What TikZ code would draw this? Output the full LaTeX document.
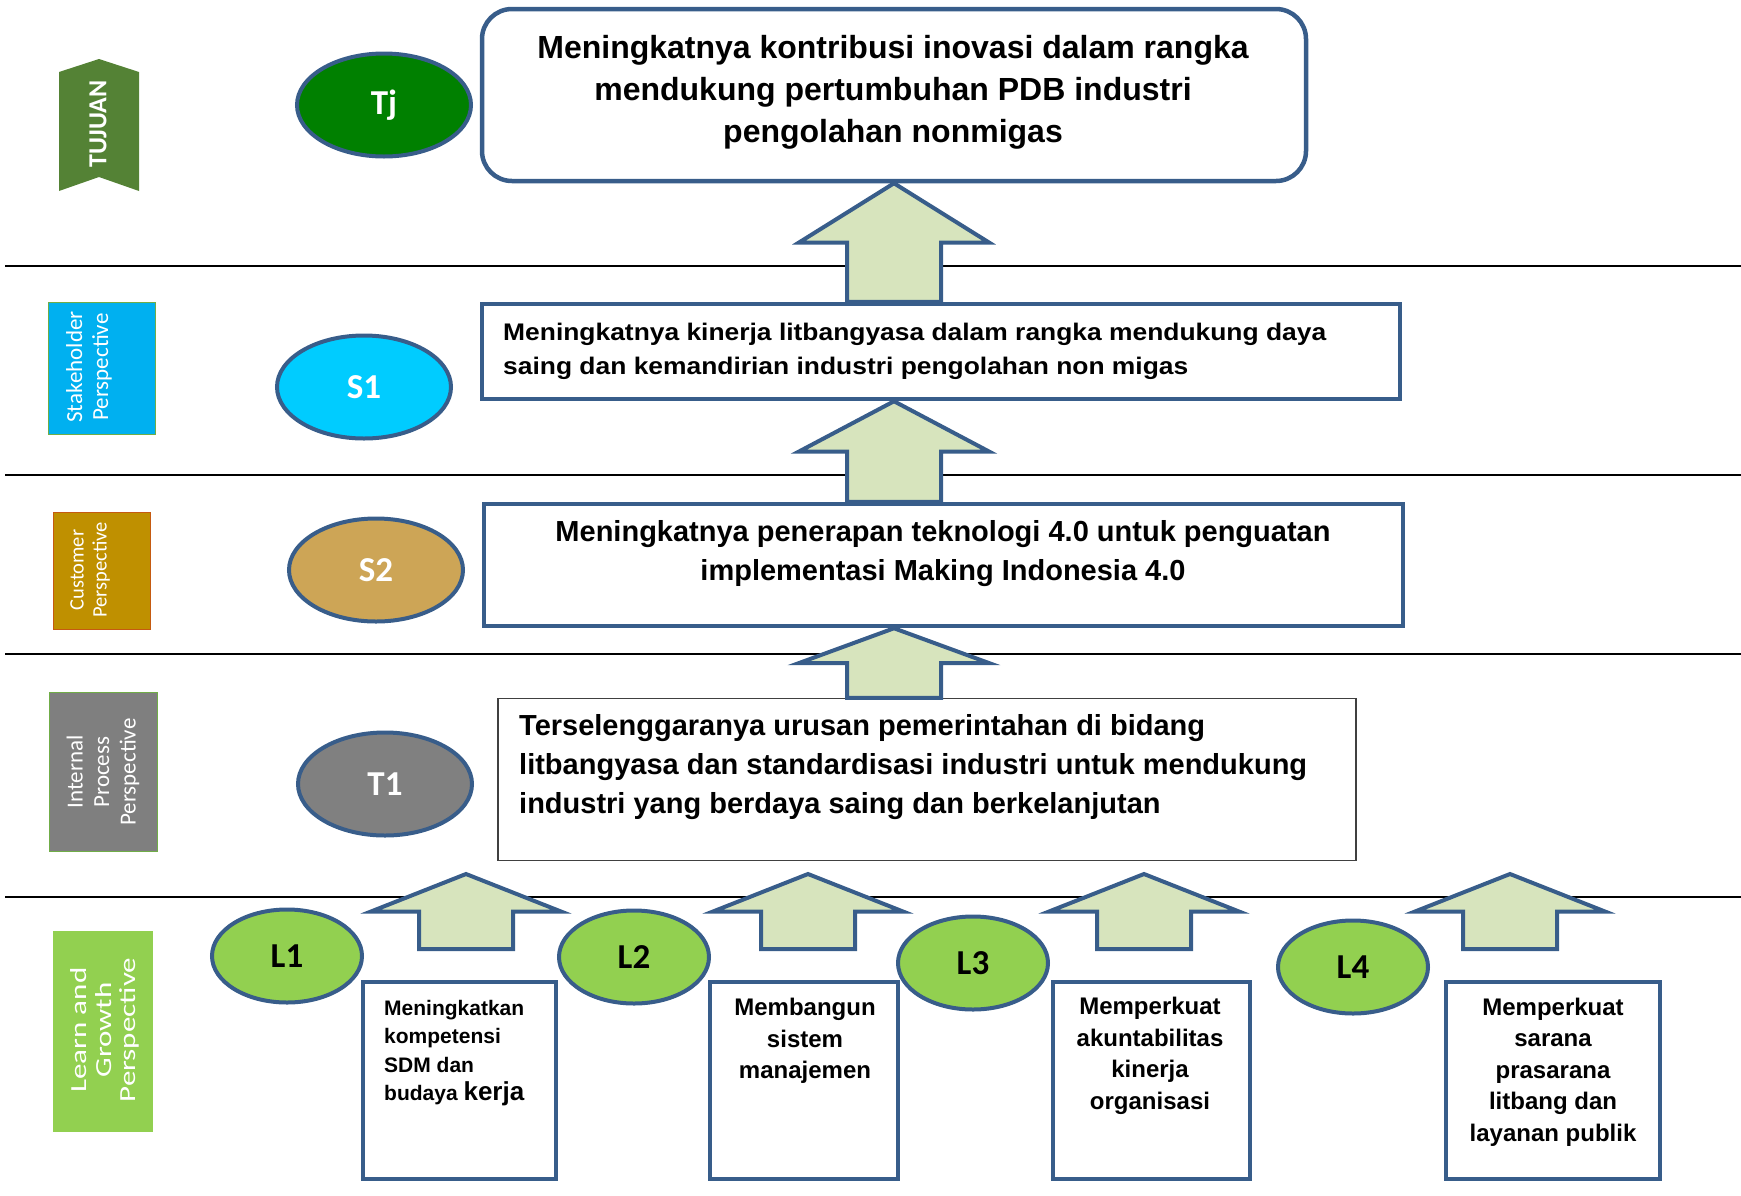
\documentclass[tikz,border=0pt]{standalone}
\usepackage{fontspec}
\setmainfont{Liberation Sans}
\newfontfamily\calibri{Carlito}
\newfontfamily\calibriwide[FakeStretch=1.35]{Carlito}
\newfontfamily\widesans[FakeStretch=1.1]{Liberation Sans}
\usetikzlibrary{shapes.geometric,calc}
\definecolor{kpiblue}{RGB}{56,93,138}
\definecolor{kpiarrow}{RGB}{215,228,189}
\definecolor{tjgreen}{RGB}{0,128,0}
\definecolor{s1cyan}{RGB}{0,204,255}
\definecolor{s2tan}{RGB}{205,165,86}
\definecolor{t1grey}{RGB}{128,128,128}
\definecolor{lgreen}{RGB}{146,208,80}
\definecolor{tujuangreen}{RGB}{84,130,53}
\definecolor{skyblue}{RGB}{0,176,240}
\definecolor{custgold}{RGB}{191,144,0}
\definecolor{custedge}{RGB}{197,90,17}
\definecolor{procgrey}{RGB}{127,127,127}
\definecolor{procedge}{RGB}{112,173,71}
\tikzset{goal/.style={ellipse, draw=kpiblue, line width=4pt, inner sep=0pt, minimum width=174pt, minimum height=103pt, text=white, font=\calibri\bfseries\fontsize{35}{40}\selectfont}}
\tikzset{lgoal/.style={goal, fill=lgreen, text=black, minimum width=150pt, minimum height=93pt}}
\tikzset{kbox/.style={draw=kpiblue, line width=4.5pt, inner sep=0pt}}
\tikzset{lbox/.style={kbox, line width=4pt, minimum height=197pt}}
\tikzset{ktext/.style={align=center, inner sep=0pt, font=\bfseries}}
\tikzset{persp/.style={inner sep=0pt, line width=0.8pt}}
\tikzset{ptext/.style={rotate=90, text=white, align=center, inner sep=0pt}}
\tikzset{barrow/.style={draw=kpiblue, line width=4pt, fill=kpiarrow, line join=miter}}
\tikzset{sepline/.style={line width=2pt, black}}
\newcommand{\blockarrow}[2]{%
  \draw[barrow] let \p1=(#1), \p2=(#2) in
    ({\x1-47pt},\y1) -- ({\x1-47pt},{0.5*\y1+0.5*\y2}) -- ({\x1-95pt},{0.5*\y1+0.5*\y2})
    -- (\x2,\y2) -- ({\x1+95pt},{0.5*\y1+0.5*\y2}) -- ({\x1+47pt},{0.5*\y1+0.5*\y2})
    -- ({\x1+47pt},\y1) -- cycle;}

\begin{document}
\begin{tikzpicture}[x=1pt, y=-1pt]
        \useasboundingbox (0,0) rectangle (1741,1195);

        \foreach \ypos in {266,475,654,897}
            \draw[sepline] (5,\ypos) -- (1741,\ypos);

        % perspectives
        \fill[tujuangreen] (59,72) -- (99,59) -- (139,72) -- (139,191) -- (99,177) -- (59,191) -- cycle;
        \node[ptext, font=\calibri\bfseries\fontsize{26}{30}\selectfont] (ptj) at (98,124) {TUJUAN};
        \node[persp, fill=skyblue, draw=procedge, minimum width=107pt, minimum height=132pt] (pst) at (101.5,368) {};
        \node[ptext, font=\calibri\fontsize{23}{26}\selectfont] (lst) at (89,367) {Stakeholder\\Perspective};
        \node[persp, fill=custgold, draw=custedge, minimum width=97pt, minimum height=117pt] (pcu) at (101.5,570.5) {};
        \node[ptext, font=\calibri\fontsize{20.5}{23}\selectfont] (lcu) at (90,570) {Customer\\Perspective};
        \node[persp, fill=procgrey, draw=procedge, minimum width=108pt, minimum height=159pt] (pip) at (103,771.5) {};
        \node[ptext, font=\calibri\fontsize{23}{26.5}\selectfont] (lip) at (103,772) {Internal\\Process\\Perspective};
        \node[persp, fill=lgreen, minimum width=100pt, minimum height=201pt] (plg) at (103,1031.5) {};
        \node[ptext, font=\calibriwide\fontsize{23}{24.5}\selectfont] (llg) at (105,1030) {Learn and\\Growth\\Perspective};

        % goals
        \node[goal, fill=tjgreen] (tj) at (384,105) {Tj};
        \node[goal, fill=s1cyan] (s1) at (364,387) {S1};
        \node[goal, fill=s2tan] (s2) at (376,570) {S2};
        \node[goal, fill=t1grey] (t1) at (385,784) {T1};
        \node[lgoal] (l1) at (287,956) {L1};
        \node[lgoal] (l2) at (634,957) {L2};
        \node[lgoal] (l3) at (973,963) {L3};
        \node[lgoal] (l4) at (1353,967) {L4};

        % boxes
        \node[kbox, rounded corners=30pt, minimum width=824pt, minimum height=172pt] (btj) at (894,95) {};
        \node[ktext, font=\bfseries\fontsize{32}{42}\selectfont] (ttj) at (893,92)
            {Meningkatnya kontribusi inovasi dalam rangka\\mendukung pertumbuhan PDB industri\\pengolahan nonmigas};
        \node[kbox, minimum width=918pt, minimum height=95pt] (bs1) at (941,351.5) {};
        \node[ktext, align=left, anchor=west, font=\widesans\bfseries\fontsize{24}{34}\selectfont] (ts1) at (503,351)
            {Meningkatnya kinerja litbangyasa dalam rangka mendukung daya\\saing dan kemandirian industri pengolahan non migas};
        \node[kbox, minimum width=919pt, minimum height=122pt] (bs2) at (943.5,565) {};
        \node[ktext, font=\bfseries\fontsize{29}{39}\selectfont] (ts2) at (943,554)
            {Meningkatnya penerapan teknologi 4.0 untuk penguatan\\implementasi Making Indonesia 4.0};
        \node[draw=black!75, line width=1.3pt, inner sep=0pt, minimum width=858pt, minimum height=162pt] (bt1) at (927,779.5) {};
        \node[ktext, align=left, anchor=west, font=\bfseries\fontsize{29}{39}\selectfont] (tt1) at (519,767)
            {Terselenggaranya urusan pemerintahan di bidang\\litbangyasa dan standardisasi industri untuk mendukung\\industri yang berdaya saing dan berkelanjutan};

        \node[lbox, minimum width=193pt] (bl1) at (459.5,1080.5) {};
        \node[ktext, align=left, anchor=west, font=\bfseries\fontsize{21}{28.5}\selectfont] (tl1) at (384,1053)
            {Meningkatkan\\kompetensi\\SDM dan\\budaya {\fontsize{26}{28}\selectfont kerja}};
        \node[lbox, minimum width=188pt] (bl2) at (804,1080.5) {};
        \node[ktext, font=\bfseries\fontsize{24}{31.5}\selectfont] (tl2) at (805,1041) {Membangun\\sistem\\manajemen};
        \node[lbox, minimum width=197pt] (bl3) at (1151.5,1080.5) {};
        \node[ktext, font=\bfseries\fontsize{24}{31.5}\selectfont] (tl3) at (1150,1056) {Memperkuat\\akuntabilitas\\kinerja\\organisasi};
        \node[lbox, minimum width=214pt] (bl4) at (1553,1080.5) {};
        \node[ktext, font=\bfseries\fontsize{24}{31.5}\selectfont] (tl4) at (1553,1072) {Memperkuat\\sarana\\prasarana\\litbang dan\\layanan publik};

        % arrows
        \blockarrow{btj.south |- bs1.north}{btj.south}
        \blockarrow{btj.south |- bs2.north}{btj.south |- bs1.south}
        \blockarrow{btj.south |- bt1.north}{btj.south |- bs2.south}

        \coordinate (f1) at (466,949); \coordinate (h1) at (466,874);
        \coordinate (f2) at (808,949); \coordinate (h2) at (808,874);
        \coordinate (f3) at (1144,949); \coordinate (h3) at (1144,874);
        \coordinate (f4) at (1510,949); \coordinate (h4) at (1510,874);
        \blockarrow{f1}{h1}
        \blockarrow{f2}{h2}
        \blockarrow{f3}{h3}
        \blockarrow{f4}{h4}
    \end{tikzpicture}
\end{document}
